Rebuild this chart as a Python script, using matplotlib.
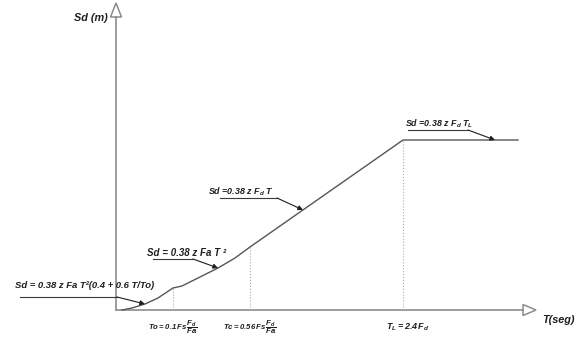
import numpy as np
import matplotlib
matplotlib.use("Agg")
import matplotlib.pyplot as plt
from matplotlib.patches import Polygon

FACE = "Liberation Sans"
plt.rcParams["font.family"] = [FACE, "DejaVu Sans"]
plt.rcParams["font.weight"] = "bold"
plt.rcParams["font.style"] = "italic"
plt.rcParams["mathtext.fontset"] = "custom"
plt.rcParams["mathtext.rm"] = FACE + ":bold:italic"
plt.rcParams["mathtext.it"] = FACE + ":bold:italic"
plt.rcParams["mathtext.bf"] = FACE + ":bold:italic"

# design spectrum (schematic): period T vs spectral displacement Sd
T = [0.06, 0.16, 0.29, 0.42, 0.57, 0.66, 0.82, 1.02, 1.19, 1.34, 2.87, 4.02]
Sd = [0.00, 0.02, 0.06, 0.12, 0.22, 0.24, 0.32, 0.42, 0.52, 0.63, 1.70, 1.70]

# corner periods
T_o, T_c, T_L = 0.57, 1.34, 2.87
corner_labels = [
    r"$To = 0.1\,Fs\,\dfrac{F_d}{Fa}$",
    r"$Tc = 0.56\,Fs\,\dfrac{F_d}{Fa}$",
    r"$T_L = 2.4\,F_d$",
]

# branch formulas and the period each arrow points at
formulas = [
    "Sd = 0.38 z Fa T²(0.4 + 0.6 T/To)",
    "Sd = 0.38 z Fa T ²",
    r"Sd =0.38 z $F_d$ T",
    r"Sd =0.38 z $F_d$ $T_L$",
]
formula_T = [0.29, 1.02, 1.87, 3.79]

AXIS = "#8c8c8c"
INK = "#3a3a3a"
TXT = "#1e1e1e"

fig = plt.figure(figsize=(5.76, 3.40), dpi=100)
ax = fig.add_axes([0, 0, 1, 1])
ax.set_xlim(-1.16, 4.60)
ax.set_ylim(-0.30, 3.10)
ax.axis("off")

# axes with open arrowheads
ax.plot([0, 0], [0, 2.93], color=AXIS, lw=1.2)
ax.plot([0, 4.07], [0, 0], color=AXIS, lw=1.2)
ax.add_patch(Polygon([[-0.055, 2.93], [0.055, 2.93], [0, 3.07]], closed=True,
                     fc="white", ec=AXIS, lw=1.1))
ax.add_patch(Polygon([[4.07, 0.055], [4.07, -0.055], [4.20, 0]], closed=True,
                     fc="white", ec=AXIS, lw=1.1))
ax.text(-0.08, 2.92, "Sd (m)", ha="right", va="center", fontsize=7.8, color=TXT)
ax.text(4.26, -0.10, "T(seg)", ha="left", va="center", fontsize=7.8, color=TXT)

# spectrum curve
ax.plot(T, Sd, color="#555555", lw=1.0)

# dotted guides at corner periods
for tc in [T_o, T_c, T_L]:
    ax.plot([tc, tc], [0, np.interp(tc, T, Sd)], color="#aaaaaa", lw=0.8, ls=":")
for tc, dx, lab, fs in zip([T_o, T_c, T_L], [0.0, 0.0, 0.05], corner_labels, [5.6, 5.6, 6.5]):
    ax.text(tc + dx, -0.17, lab, ha="center", va="center", fontsize=fs, color=TXT)

# formula labels: underline + leader arrow to the curve
text_pos = [(-1.01, 0.25), (0.31, 0.57), (0.92, 1.18), (2.89, 1.86)]
under = [(-0.96, 0.01, 0.13), (0.37, 0.77, 0.51), (1.04, 1.61, 1.12), (2.92, 3.52, 1.80)]
sizes = [6.8, 7.0, 6.4, 6.4]
for f, tf, (tx, ty), (u0, u1, uy), fs in zip(formulas, formula_T, text_pos, under, sizes):
    ax.text(tx, ty, f, ha="left", va="center", fontsize=fs, color=TXT)
    ax.plot([u0, u1], [uy, uy], color=INK, lw=0.8)
    ax.annotate("", xy=(tf, np.interp(tf, T, Sd)), xytext=(u1, uy),
                arrowprops=dict(arrowstyle="-|>", color=TXT, lw=0.8,
                                mutation_scale=7, shrinkA=0, shrinkB=0))

fig.savefig("out.png", dpi=100, facecolor="white")
